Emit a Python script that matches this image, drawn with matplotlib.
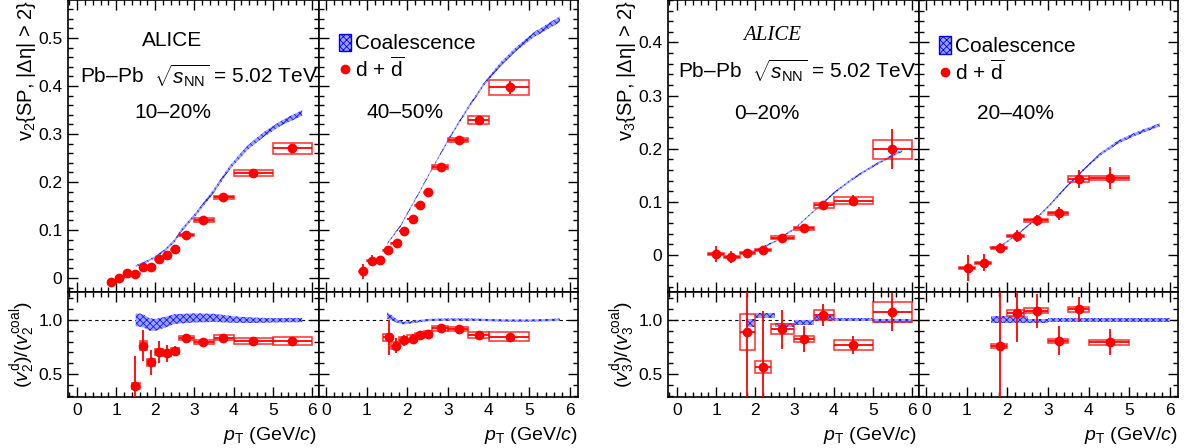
import numpy as np
import matplotlib
matplotlib.use('Agg')
import matplotlib.pyplot as plt
from matplotlib.patches import Rectangle, Patch
from matplotlib.lines import Line2D
from matplotlib.ticker import MultipleLocator, FuncFormatter

plt.rcParams['font.family'] = ['Liberation Sans', 'DejaVu Sans']
plt.rcParams['mathtext.fontset'] = 'custom'
plt.rcParams['mathtext.rm'] = 'Liberation Sans'
plt.rcParams['mathtext.it'] = 'Liberation Sans:italic'
plt.rcParams['mathtext.bf'] = 'Liberation Sans:bold'
plt.rcParams['hatch.linewidth'] = 0.6

# ---------------- data ----------------
# v2 bins
v2_lo = [0.8, 1.0, 1.2, 1.4, 1.6, 1.8, 2.0, 2.2, 2.4, 2.6, 3.0, 3.5, 4.0, 5.0]
v2_hi = [1.0, 1.2, 1.4, 1.6, 1.8, 2.0, 2.2, 2.4, 2.6, 3.0, 3.5, 4.0, 5.0, 6.0]

# v2, 10-20%
v2a_x = [0.88, 1.08, 1.28, 1.49, 1.69, 1.88, 2.09, 2.29, 2.49, 2.79, 3.23, 3.74, 4.49, 5.50]
v2a_y = [-0.009, 0.001, 0.010, 0.009, 0.024, 0.024, 0.039, 0.047, 0.060, 0.090, 0.121, 0.168, 0.218, 0.270]
v2a_stat = [0.006, 0.004, 0.003, 0.003, 0.003, 0.003, 0.003, 0.003, 0.003, 0.003, 0.003, 0.003, 0.004, 0.005]
v2a_sys = [0.001, 0.001, 0.001, 0.001, 0.001, 0.001, 0.001, 0.001, 0.001, 0.002, 0.0035, 0.0035, 0.006, 0.012]
coal2a_x = [1.5, 1.75, 2.0, 2.25, 2.5, 2.65, 3.05, 3.5, 3.9, 4.35, 4.75, 5.2, 5.75]
coal2a_y = [0.025, 0.033, 0.044, 0.058, 0.078, 0.098, 0.135, 0.182, 0.230, 0.271, 0.298, 0.322, 0.344]
coal2a_hw = [0.002, 0.002, 0.002, 0.0025, 0.003, 0.003, 0.0035, 0.004, 0.004, 0.0045, 0.005, 0.005, 0.006]

# v2, 40-50%
v2b_x = [0.92, 1.13, 1.33, 1.53, 1.74, 1.93, 2.14, 2.32, 2.52, 2.82, 3.27, 3.76, 4.52]
v2b_y = [0.014, 0.036, 0.038, 0.058, 0.072, 0.098, 0.123, 0.152, 0.179, 0.231, 0.287, 0.329, 0.397]
v2b_stat = [0.016, 0.011, 0.008, 0.006, 0.005, 0.004, 0.004, 0.004, 0.004, 0.004, 0.004, 0.005, 0.014]
v2b_sys = [0.001, 0.001, 0.001, 0.001, 0.001, 0.001, 0.001, 0.001, 0.001, 0.0035, 0.0045, 0.009, 0.016]
coal2b_x = [1.5, 1.82, 2.23, 2.64, 3.05, 3.46, 3.87, 4.28, 4.69, 5.10, 5.75]
coal2b_y = [0.071, 0.107, 0.169, 0.232, 0.294, 0.350, 0.402, 0.444, 0.478, 0.506, 0.539]
coal2b_hw = [0.002, 0.002, 0.002, 0.002, 0.0025, 0.003, 0.003, 0.004, 0.004, 0.005, 0.006]

# v3 bins
v3_lo = [0.8, 1.2, 1.6, 2.0, 2.4, 3.0, 3.5, 4.0, 5.0]
v3_hi = [1.2, 1.6, 2.0, 2.4, 3.0, 3.5, 4.0, 5.0, 6.0]

# v3, 0-20%
v3a_x = [0.99, 1.39, 1.79, 2.19, 2.69, 3.24, 3.74, 4.49, 5.50]
v3a_y = [0.002, -0.004, 0.004, 0.009, 0.032, 0.050, 0.093, 0.102, 0.199]
v3a_stat = [0.015, 0.011, 0.007, 0.007, 0.005, 0.005, 0.008, 0.010, 0.038]
v3a_sys = [0.002, 0.002, 0.002, 0.002, 0.003, 0.003, 0.005, 0.006, 0.018]
coal3a_x = [1.75, 2.0, 2.5, 3.0, 3.5, 4.0, 4.5, 5.0, 5.5, 5.75]
coal3a_y = [0.005, 0.008, 0.025, 0.049, 0.083, 0.116, 0.144, 0.167, 0.187, 0.196]
coal3a_hw = [0.0015, 0.0015, 0.0015, 0.0015, 0.0015, 0.002, 0.002, 0.002, 0.002, 0.002]

# v3, 20-40%
v3b_x = [1.04, 1.43, 1.82, 2.23, 2.72, 3.27, 3.77, 4.52]
v3b_y = [-0.025, -0.015, 0.013, 0.035, 0.065, 0.078, 0.143, 0.145]
v3b_stat = [0.024, 0.016, 0.010, 0.011, 0.010, 0.013, 0.017, 0.021]
v3b_sys = [0.002, 0.002, 0.002, 0.002, 0.003, 0.003, 0.005, 0.004]
coal3b_x = [1.55, 1.82, 2.23, 2.64, 3.05, 3.46, 3.87, 4.28, 4.69, 5.10, 5.75]
coal3b_y = [0.014, 0.015, 0.038, 0.063, 0.094, 0.129, 0.160, 0.189, 0.211, 0.226, 0.245]
coal3b_hw = [0.0015, 0.0015, 0.0015, 0.0015, 0.002, 0.002, 0.002, 0.0025, 0.003, 0.003, 0.003]

# ratios v2
r2a_x = [1.49, 1.69, 1.88, 2.09, 2.29, 2.49, 2.79, 3.23, 3.74, 4.49, 5.50]
r2a_y = [0.387, 0.764, 0.607, 0.702, 0.693, 0.715, 0.834, 0.80, 0.837, 0.807, 0.807]
r2a_stat = [0.28, 0.14, 0.12, 0.10, 0.08, 0.04, 0.01, 0.01, 0.01, 0.01, 0.01]
r2a_sys = [0.03, 0.04, 0.035, 0.03, 0.03, 0.03, 0.018, 0.018, 0.02, 0.03, 0.035]
rc2a_x = [1.5, 1.6, 1.7, 1.85, 2.0, 2.25, 2.5, 3.0, 3.5, 4.0, 4.5, 5.0, 5.5, 5.75]
rc2a_y = [1.00, 1.0, 0.99, 0.96, 0.955, 0.98, 1.01, 1.02, 1.02, 1.005, 0.998, 0.998, 1.0, 1.0]
rc2a_hw = [0.06, 0.06, 0.06, 0.057, 0.055, 0.05, 0.045, 0.042, 0.038, 0.03, 0.025, 0.02, 0.02, 0.02]

r2b_x = [1.54, 1.73, 1.93, 2.14, 2.32, 2.52, 2.82, 3.27, 3.76, 4.52]
r2b_y = [0.84, 0.764, 0.813, 0.828, 0.859, 0.871, 0.926, 0.917, 0.862, 0.847]
r2b_stat = [0.16, 0.07, 0.05, 0.04, 0.03, 0.03, 0.01, 0.01, 0.01, 0.01]
r2b_sys = [0.03, 0.03, 0.03, 0.03, 0.025, 0.025, 0.023, 0.02, 0.025, 0.038]
rc2b_x = [1.5, 1.6, 1.75, 1.9, 2.2, 2.5, 3.0, 3.5, 4.0, 4.5, 5.0, 5.5, 5.75]
rc2b_y = [1.04, 1.025, 0.99, 0.972, 0.985, 1.0, 1.005, 1.005, 1.0, 0.995, 0.995, 1.0, 1.005]
rc2b_hw = [0.03, 0.025, 0.015, 0.012, 0.01, 0.01, 0.01, 0.01, 0.01, 0.01, 0.01, 0.01, 0.01]

# ratios v3
r3a_x = [1.79, 2.19, 2.69, 3.24, 3.74, 4.49, 5.50]
r3a_y = [0.887, 0.567, 0.914, 0.828, 1.046, 0.770, 1.074]
r3a_stat = [0.60, 0.52, 0.18, 0.12, 0.10, 0.08, 0.18]
r3a_sys = [0.165, 0.055, 0.045, 0.028, 0.045, 0.046, 0.095]
rc3a_lo = [1.75, 2.0, 2.5, 3.0, 3.5, 4.0, 5.0]
rc3a_hi = [2.0, 2.5, 3.0, 3.5, 4.0, 5.0, 6.0]
rc3a_y = [0.975, 1.045, 0.955, 0.98, 1.02, 1.005, 0.99]
rc3a_hw = [0.035, 0.023, 0.018, 0.022, 0.018, 0.015, 0.02]

r3b_x = [1.82, 2.23, 2.72, 3.27, 3.77, 4.52]
r3b_y = [0.758, 1.064, 1.086, 0.807, 1.098, 0.794]
r3b_stat = [0.55, 0.27, 0.16, 0.135, 0.12, 0.12]
r3b_sys = [0.02, 0.028, 0.025, 0.018, 0.027, 0.023]
rc3b_lo = [1.6, 2.5, 3.0, 3.5, 4.0, 5.0]
rc3b_hi = [2.5, 3.0, 3.5, 4.0, 5.0, 6.0]
rc3b_y = [1.005, 0.99, 1.0, 1.0, 1.0, 1.0]
rc3b_hw = [0.03, 0.02, 0.015, 0.015, 0.015, 0.015]

# ---------------- style ----------------
RED = 'red'
BOX = (1.0, 0.1, 0.1, 0.85)
BAND_FC = '#9aa0ff'
BAND_EC = '#1515ff'
TICK = 12.5
TXT = 15

W, H = 1189, 448
fig = plt.figure(figsize=(W / 100, H / 100), dpi=100)


def add_ax(l, t, r, b):
    return fig.add_axes([l / W, 1 - b / H, (r - l) / W, (b - t) / H])


def style(ax, xlim, ylim, ymaj, ymin, labels_y, labels_x, fmt):
    ax.set_xlim(*xlim)
    ax.set_ylim(*ylim)
    ax.xaxis.set_major_locator(MultipleLocator(1))
    ax.xaxis.set_minor_locator(MultipleLocator(0.2))
    ax.yaxis.set_major_locator(MultipleLocator(ymaj))
    ax.yaxis.set_minor_locator(MultipleLocator(ymin))
    ax.yaxis.set_major_formatter(FuncFormatter(fmt))
    ax.tick_params(which='both', direction='in', top=True, right=True,
                   labelsize=TICK, labelleft=labels_y, labelbottom=labels_x, pad=4)
    ax.tick_params(which='major', length=7, width=1)
    ax.tick_params(which='minor', length=3.5, width=1)
    for s in ax.spines.values():
        s.set_linewidth(1.2)


def fmt_top(v, pos):
    return '0' if abs(v) < 1e-9 else '%.1f' % v


def fmt_ratio(v, pos):
    return '%.1f' % v


def draw_points(ax, x, lo, hi, y, stat, sys):
    x = np.asarray(x)
    lo = np.asarray(lo[:len(x)])
    hi = np.asarray(hi[:len(x)])
    for l, h, yy, s in zip(lo, hi, y, sys):
        ax.add_patch(Rectangle((l, yy - s), h - l, 2 * s, fill=False,
                               ec=BOX, lw=1.2, zorder=3))
    ax.errorbar(x, y, xerr=[x - lo, hi - x], yerr=stat, fmt='o', color=RED,
                ms=6, elinewidth=1.3, capsize=0, zorder=4)


def draw_band(ax, x, y, hw):
    x = np.asarray(x)
    y = np.asarray(y)
    hw = np.asarray(hw)
    ax.fill_between(x, y - hw, y + hw, facecolor=BAND_FC, edgecolor=BAND_EC,
                    hatch='xxxxx', lw=0, zorder=2)


def draw_step_band(ax, lo, hi, y, hw):
    lo = np.asarray(lo)
    hi = np.asarray(hi)
    y = np.asarray(y)
    hw = np.asarray(hw)
    ax.bar(lo, 2 * hw, width=hi - lo, bottom=y - hw, align='edge',
           facecolor=BAND_FC, edgecolor=BAND_EC, hatch='xxxxx', lw=0, zorder=2)


def legend(ax, anchor):
    handles = [Patch(facecolor=BAND_FC, edgecolor='blue', hatch='xxxxx', lw=1),
               Line2D([], [], marker='o', color=RED, ls='none', ms=6)]
    ax.legend(handles, ['Coalescence', r'd + $\overline{\mathrm{d}}$'],
              loc='upper left', bbox_to_anchor=anchor, frameon=False,
              fontsize=TXT, handlelength=0.6, handleheight=0.9,
              handletextpad=0.15, labelspacing=0.15, borderpad=0,
              borderaxespad=0)


xl_a = (-0.23, 6.18)
xl_b = (-0.172, 6.197)

# panel frames (pixels)
ax1 = add_ax(68, 0, 319, 292)
ax2 = add_ax(319, 0, 578, 292)
ax3 = add_ax(668, 0, 919, 292)
ax4 = add_ax(919, 0, 1178, 292)
rx1 = add_ax(68, 292, 319, 397)
rx2 = add_ax(319, 292, 578, 397)
rx3 = add_ax(668, 292, 919, 397)
rx4 = add_ax(919, 292, 1178, 397)

style(ax1, xl_a, (-0.029, 0.579), 0.1, 0.02, True, False, fmt_top)
style(ax2, xl_b, (-0.029, 0.579), 0.1, 0.02, False, False, fmt_top)
style(ax3, xl_a, (-0.07, 0.48), 0.1, 0.02, True, False, fmt_top)
style(ax4, xl_b, (-0.07, 0.48), 0.1, 0.02, False, False, fmt_top)
for r, xl, lab in [(rx1, xl_a, True), (rx2, xl_b, False), (rx3, xl_a, True), (rx4, xl_b, False)]:
    style(r, xl, (0.287, 1.26), 0.5, 0.1, lab, True, fmt_ratio)
    r.axhline(1.0, color='black', ls=(0, (3, 3)), lw=0.8, zorder=1)

# top panels
draw_band(ax1, coal2a_x, coal2a_y, coal2a_hw)
draw_points(ax1, v2a_x, v2_lo, v2_hi, v2a_y, v2a_stat, v2a_sys)
draw_band(ax2, coal2b_x, coal2b_y, coal2b_hw)
draw_points(ax2, v2b_x, v2_lo, v2_hi, v2b_y, v2b_stat, v2b_sys)
draw_band(ax3, coal3a_x, coal3a_y, coal3a_hw)
draw_points(ax3, v3a_x, v3_lo, v3_hi, v3a_y, v3a_stat, v3a_sys)
draw_band(ax4, coal3b_x, coal3b_y, coal3b_hw)
draw_points(ax4, v3b_x, v3_lo, v3_hi, v3b_y, v3b_stat, v3b_sys)

# ratio panels
draw_band(rx1, rc2a_x, rc2a_y, rc2a_hw)
draw_points(rx1, r2a_x, v2_lo[3:], v2_hi[3:], r2a_y, r2a_stat, r2a_sys)
draw_band(rx2, rc2b_x, rc2b_y, rc2b_hw)
draw_points(rx2, r2b_x, v2_lo[3:], v2_hi[3:], r2b_y, r2b_stat, r2b_sys)
draw_step_band(rx3, rc3a_lo, rc3a_hi, rc3a_y, rc3a_hw)
draw_points(rx3, r3a_x, v3_lo[2:], v3_hi[2:], r3a_y, r3a_stat, r3a_sys)
draw_step_band(rx4, rc3b_lo, rc3b_hi, rc3b_y, rc3b_hw)
draw_points(rx4, r3b_x, v3_lo[2:], v3_hi[2:], r3b_y, r3b_stat, r3b_sys)

# texts
energy = r'Pb–Pb  $\sqrt{s_{\mathrm{NN}}}$ = 5.02 TeV'
ax1.text(0.414, 0.863, 'ALICE', transform=ax1.transAxes, ha='center', va='center', fontsize=TXT)
ax1.text(0.522, 0.743, energy, transform=ax1.transAxes, ha='center', va='center', fontsize=TXT)
ax1.text(0.418, 0.616, '10–20%', transform=ax1.transAxes, ha='center', va='center', fontsize=TXT)
legend(ax2, (0.077, 0.885))
ax2.text(0.332, 0.616, '40–50%', transform=ax2.transAxes, ha='center', va='center', fontsize=TXT)

ax3.text(0.414, 0.88, 'ALICE', transform=ax3.transAxes, ha='center', va='center',
         fontsize=TXT, family='Liberation Serif', style='italic')
ax3.text(0.514, 0.76, energy, transform=ax3.transAxes, ha='center', va='center', fontsize=TXT)
ax3.text(0.394, 0.613, '0–20%', transform=ax3.transAxes, ha='center', va='center', fontsize=TXT)
legend(ax4, (0.077, 0.875))
ax4.text(0.371, 0.613, '20–40%', transform=ax4.transAxes, ha='center', va='center', fontsize=TXT)

# axis titles
ax1.text(-0.165, 1.0, r'v$_{2}${SP, |Δη| > 2}', transform=ax1.transAxes,
         rotation=90, ha='center', va='top', fontsize=14.5)
ax3.text(-0.165, 1.0, r'v$_{3}${SP, |Δη| > 2}', transform=ax3.transAxes,
         rotation=90, ha='center', va='top', fontsize=14.5)
rx1.text(-0.18, 0.5, r'$(v_{2}^{\mathrm{d}})/(v_{2}^{\mathrm{coal}})$', transform=rx1.transAxes,
         rotation=90, ha='center', va='center', fontsize=14)
rx3.text(-0.18, 0.5, r'$(v_{3}^{\mathrm{d}})/(v_{3}^{\mathrm{coal}})$', transform=rx3.transAxes,
         rotation=90, ha='center', va='center', fontsize=14)
for r, xr in [(rx1, 0.99), (rx2, 1.0), (rx3, 0.99), (rx4, 1.0)]:
    r.text(xr, -0.37, r'$p_{\mathrm{T}}$ (GeV/$c$)', transform=r.transAxes,
           ha='right', va='center', fontsize=14)

fig.savefig('out.png', dpi=100)
